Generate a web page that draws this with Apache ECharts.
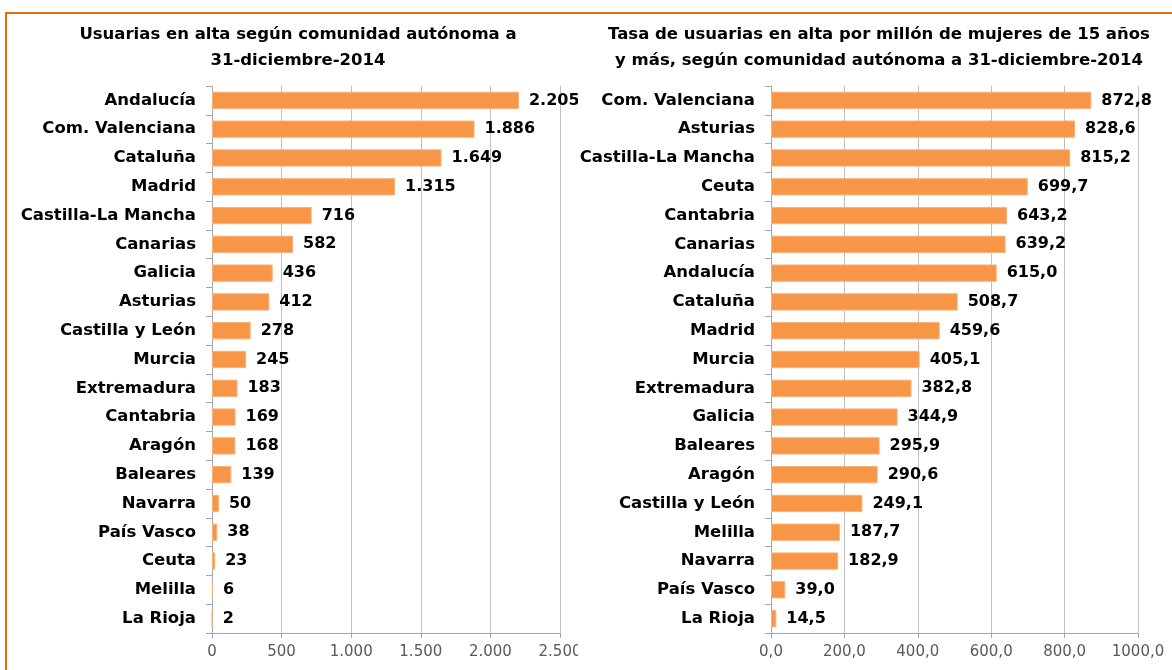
<!DOCTYPE html>
<html>
<head>
<meta charset="utf-8">
<script src="https://cdn.jsdelivr.net/npm/echarts@6/dist/echarts.min.js"></script>
<style>
  html, body { margin: 0; padding: 0; background: #fff; }
  #wrap { position: relative; width: 1172px; height: 670px; overflow: hidden; }
  #frame { position: absolute; left: 5px; top: 12px; width: 1300px; height: 800px; border: 2px solid #E46C0A; }
  #usuarias { position: absolute; left: 0; top: 0; width: 578px; height: 670px; }
  #tasa { position: absolute; left: 578px; top: 0; width: 594px; height: 670px; }
</style>
</head>
<body>
<div id="wrap">
  <div id="frame"></div>
  <div id="usuarias"></div>
  <div id="tasa"></div>
</div>
<script>
  // usuarias en alta (numero absoluto)
  const usuariasCats = ['Andalucía', 'Com. Valenciana', 'Cataluña', 'Madrid', 'Castilla-La Mancha', 'Canarias',
    'Galicia', 'Asturias', 'Castilla y León', 'Murcia', 'Extremadura', 'Cantabria', 'Aragón', 'Baleares',
    'Navarra', 'País Vasco', 'Ceuta', 'Melilla', 'La Rioja'];
  const usuariasVals = [2205, 1886, 1649, 1315, 716, 582, 436, 412, 278, 245, 183, 169, 168, 139, 50, 38, 23, 6, 2];
  const usuariasTicks = [0, 500, 1000, 1500, 2000, 2500];

  // tasa por millon de mujeres de 15 y mas
  const tasaCats = ['Com. Valenciana', 'Asturias', 'Castilla-La Mancha', 'Ceuta', 'Cantabria', 'Canarias',
    'Andalucía', 'Cataluña', 'Madrid', 'Murcia', 'Extremadura', 'Galicia', 'Baleares', 'Aragón',
    'Castilla y León', 'Melilla', 'Navarra', 'País Vasco', 'La Rioja'];
  const tasaVals = [872.8, 828.6, 815.2, 699.7, 643.2, 639.2, 615.0, 508.7, 459.6, 405.1, 382.8, 344.9,
    295.9, 290.6, 249.1, 187.7, 182.9, 39.0, 14.5];
  const tasaTicks = [0, 200, 400, 600, 800, 1000];

  const FONT = 'DejaVu Sans';
  const BAR = '#F79646';

  function miles(v) {
    return String(v).replace(/\B(?=(\d{3})+(?!\d))/g, '.');
  }
  function decimal(v) {
    return Number(v).toFixed(1).replace('.', ',');
  }

  function buildOption(title, titleX, cats, vals, ticks, gridLeft, gridRight, tickFmt, valFmt) {
    return {
      animation: false,
      textStyle: { fontFamily: FONT },
      title: {
        text: title,
        left: titleX,
        top: 17,
        textAlign: 'center',
        textStyle: { fontFamily: FONT, fontSize: 16.5, fontWeight: 'bold', color: '#000', lineHeight: 26 }
      },
      grid: { left: gridLeft, right: gridRight, top: 86, bottom: 37, outerBoundsMode: 'none' },
      xAxis: {
        type: 'value',
        min: ticks[0],
        max: ticks[ticks.length - 1],
        interval: ticks[1] - ticks[0],
        axisLine: { show: true, lineStyle: { color: '#A6A6A6' } },
        axisTick: { show: true, length: 5, lineStyle: { color: '#A6A6A6' } },
        splitLine: { show: true, lineStyle: { color: '#BFBFBF' } },
        axisLabel: { formatter: tickFmt, fontSize: 15, color: '#595959', margin: 12, fontFamily: FONT }
      },
      yAxis: {
        type: 'category',
        inverse: true,
        data: cats,
        axisLine: { show: true, lineStyle: { color: '#A6A6A6' } },
        axisTick: { show: true, length: 6, lineStyle: { color: '#A6A6A6' } },
        axisLabel: { fontSize: 16.5, fontWeight: 'bold', color: '#000', margin: 16, fontFamily: FONT }
      },
      series: [{
        type: 'bar',
        data: vals,
        barCategoryGap: '40%',
        itemStyle: { color: BAR, borderColor: '#F9B07A', borderWidth: 1 },
        label: {
          show: true,
          position: 'right',
          distance: 10,
          formatter: p => valFmt(p.value),
          fontSize: 16,
          fontWeight: 'bold',
          color: '#000',
          fontFamily: FONT
        }
      }]
    };
  }

  let chartA = echarts.init(document.getElementById('usuarias'));
  chartA.setOption(buildOption(
    'Usuarias en alta según comunidad autónoma a\n31-diciembre-2014', 293,
    usuariasCats, usuariasVals, usuariasTicks, 212, 18, miles, miles));

  let chartB = echarts.init(document.getElementById('tasa'));
  chartB.setOption(buildOption(
    'Tasa de usuarias en alta por millón de mujeres de 15 años\ny más, según comunidad autónoma a 31-diciembre-2014', 296,
    tasaCats, tasaVals, tasaTicks, 193, 34, decimal, decimal));
</script>
</body>
</html>
